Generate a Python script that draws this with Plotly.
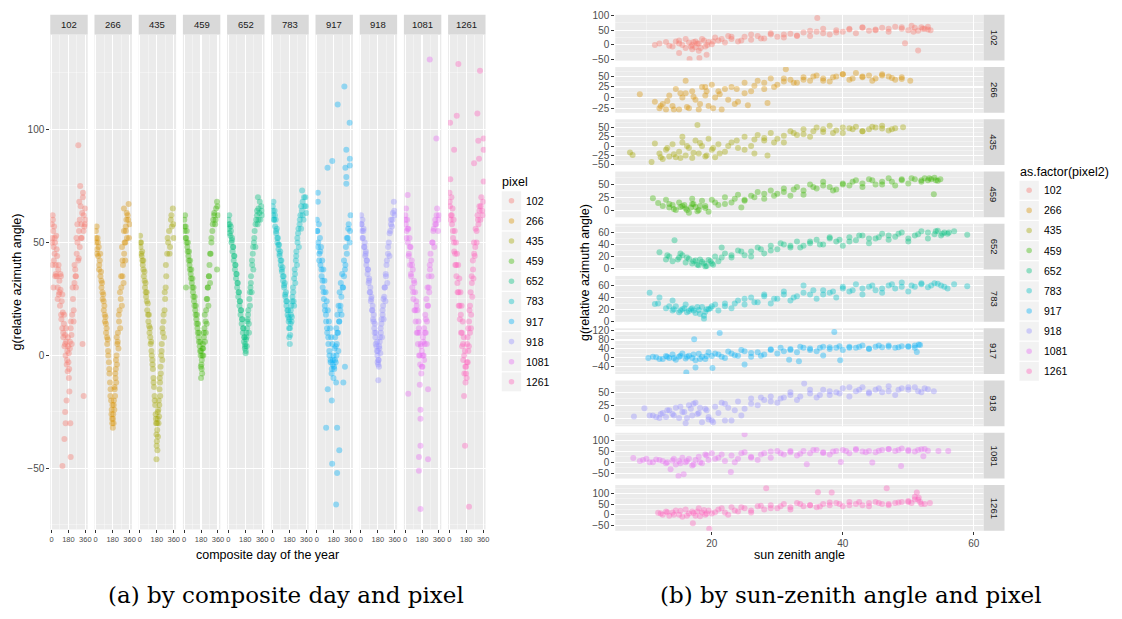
import plotly.graph_objects as go

# ---------------- data ----------------
pixels = ["102", "266", "435", "459", "652", "783", "917", "918", "1081", "1261"]
colors = ["#F8766D", "#D89000", "#A3A500", "#39B600", "#00BF7D",
          "#00BFC4", "#00B0F6", "#9590FF", "#E76BF3", "#FF62BC"]

day_ticks = [0, 180, 360]
sza_ticks = [20, 40, 60]

# (a) composite day vs g, per pixel
d102 = [3, 8, 12, 18, 22, 28, 33, 38, 44, 50, 55, 60, 66, 72, 78, 84, 90, 96, 102, 108, 114, 120, 126, 132, 138, 144, 150, 156, 162, 168, 172, 176, 180, 184, 188, 116, 137, 204, 150, 200, 145, 160, 190, 342, 330, 196, 204, 212, 220, 228, 236, 244, 252, 260, 268, 276, 284, 285, 292, 300, 305, 310, 318, 326, 334, 342, 350, 358, 362, 300, 320, 340, 260, 290, 20, 40, 10, 100]
g102 = [58, 52, 62, 55, 48, 57, 45, 50, 40, 53, 35, 44, 30, 38, 27, 33, 22, 29, 18, 24, 12, 19, 8, 14, 4, 9, 0, 6, -4, 2, -7, 4, -3, 1, -6, -49, -37, -45, -30, -30, -25, -20, -16, -18, 5, 6, 12, 9, 18, 25, 20, 32, 38, 30, 45, 50, 42, 93, 55, 60, 75, 66, 58, 63, 70, 62, 57, 65, 60, 48, 52, 55, 35, 43, 30, 35, 40, 35]
d102b = [5, 15, 25, 35, 45, 55, 65, 75, 85, 95, 105, 115, 125, 135, 145, 155, 165, 175, 185, 195, 205, 215, 225, 235, 245, 255, 265, 275, 295, 315, 335, 355]
g102b = [50, 60, 42, 52, 36, 47, 25, 40, 28, 36, 16, 27, 10, 18, 5, 12, -2, 8, -10, 3, 15, 5, 30, 15, 40, 35, 52, 58, 68, 52, 72, 58]
d266 = [2, 6, 10, 15, 20, 26, 32, 38, 44, 50, 56, 62, 68, 74, 80, 86, 92, 98, 104, 110, 116, 122, 128, 134, 140, 146, 152, 158, 164, 170, 174, 178, 182, 186, 190, 194, 198, 202, 206, 210, 214, 218, 222, 226, 230, 236, 242, 248, 254, 260, 266, 272, 278, 284, 290, 296, 302, 308, 314, 320, 326, 332, 340, 350, 360, 300, 280, 320]
g266 = [55, 50, 57, 47, 52, 44, 48, 40, 42, 35, 37, 30, 32, 25, 27, 20, 22, 15, 17, 10, 12, 5, 7, 0, -3, -8, -12, -15, -20, -24, -28, -22, -32, -26, -30, -20, -24, -15, -18, -10, -6, -12, 0, -4, 5, 10, 3, 15, 20, 12, 25, 30, 22, 35, 40, 32, 45, 50, 42, 55, 60, 52, 62, 67, 58, 65, 48, 57]
d266b = [4, 12, 24, 36, 48, 60, 72, 84, 96, 108, 120, 132, 144, 156, 168, 176, 184, 192, 200, 208, 216, 224, 234, 246, 258, 270, 285, 300, 315, 330, 345, 355]
g266b = [52, 45, 50, 38, 45, 33, 28, 24, 18, 14, 8, 2, -6, -18, -26, -30, -28, -22, -14, -8, -2, 8, 6, 18, 28, 35, 42, 55, 50, 63, 60, 52]
d435 = [2, 6, 12, 18, 24, 30, 36, 42, 48, 54, 60, 66, 72, 78, 84, 90, 96, 102, 108, 114, 120, 126, 132, 138, 144, 150, 156, 162, 168, 172, 176, 180, 184, 188, 192, 196, 200, 204, 208, 212, 216, 220, 226, 232, 238, 244, 250, 256, 262, 268, 274, 280, 290, 300, 310, 320, 330, 340, 350, 360, 176, 186]
g435 = [53, 48, 50, 44, 46, 40, 42, 35, 37, 30, 32, 26, 28, 20, 23, 15, 18, 10, 12, 5, 6, 0, -2, -6, -10, -14, -18, -22, -26, -30, -35, -38, -33, -28, -36, -24, -20, -27, -15, -10, -18, -5, 0, 5, -2, 10, 15, 8, 20, 25, 30, 35, 45, 50, 55, 48, 60, 57, 65, 52, -46, -42]
d435b = [4, 14, 26, 38, 50, 62, 74, 86, 98, 110, 122, 134, 146, 158, 170, 178, 182, 190, 198, 206, 214, 222, 230, 240, 252, 264, 276, 295, 315, 335, 355]
g435b = [50, 45, 42, 38, 33, 28, 24, 18, 13, 8, 2, -4, -12, -20, -28, -40, -30, -25, -30, -22, -12, -8, 2, 12, 18, 28, 40, 52, 45, 62, 58]
d459 = [2, 6, 10, 16, 22, 28, 34, 40, 46, 52, 58, 64, 70, 76, 82, 88, 94, 100, 106, 112, 118, 124, 130, 136, 142, 148, 154, 160, 166, 172, 176, 180, 184, 188, 192, 196, 200, 204, 210, 216, 222, 228, 234, 240, 246, 252, 258, 264, 270, 276, 282, 290, 300, 310, 320, 330, 340, 350, 360, 20, 350, 180]
g459 = [60, 55, 62, 57, 52, 55, 48, 50, 44, 46, 40, 42, 36, 38, 32, 34, 28, 30, 24, 26, 20, 22, 16, 18, 12, 14, 8, 10, 4, 6, 0, 2, -4, -2, -8, 3, 5, 0, 8, 12, 6, 15, 20, 14, 25, 30, 22, 35, 40, 32, 45, 50, 55, 60, 63, 58, 65, 68, 62, 30, 38, -10]
d459b = [4, 14, 26, 38, 50, 62, 74, 86, 98, 110, 122, 134, 146, 158, 170, 178, 186, 194, 202, 210, 220, 230, 240, 252, 264, 276, 290, 305, 320, 335, 355]
g459b = [57, 52, 50, 46, 42, 38, 34, 30, 26, 22, 18, 14, 10, 6, 2, -5, -6, 0, 3, 10, 18, 10, 25, 30, 35, 45, 52, 58, 62, 60, 66]
d652 = [2, 6, 10, 16, 22, 28, 34, 40, 46, 52, 58, 64, 70, 76, 82, 88, 94, 100, 106, 112, 118, 124, 130, 136, 142, 148, 154, 160, 166, 172, 176, 180, 184, 188, 192, 196, 200, 206, 212, 218, 224, 230, 236, 242, 248, 254, 260, 266, 272, 280, 288, 296, 304, 312, 320, 330, 340, 350, 360, 315]
g652 = [60, 56, 62, 58, 53, 55, 50, 52, 46, 48, 42, 44, 38, 40, 34, 36, 30, 32, 26, 28, 22, 24, 18, 20, 14, 16, 10, 12, 6, 8, 3, 5, 1, 7, 10, 4, 12, 16, 20, 14, 25, 22, 30, 35, 28, 40, 45, 38, 50, 55, 48, 60, 62, 58, 65, 63, 60, 66, 62, 70]
d652b = [4, 14, 26, 38, 50, 62, 74, 86, 98, 110, 122, 134, 146, 158, 170, 178, 186, 194, 202, 210, 220, 230, 240, 252, 264, 276, 290, 305, 320, 335, 355]
g652b = [58, 54, 57, 51, 48, 44, 40, 36, 32, 28, 24, 20, 16, 12, 8, 4, 2, 8, 15, 18, 10, 28, 32, 42, 48, 52, 58, 64, 60, 68, 64]
d783 = [2, 6, 10, 16, 22, 28, 34, 40, 46, 52, 58, 64, 70, 76, 82, 88, 94, 100, 106, 112, 118, 124, 130, 136, 142, 148, 154, 160, 166, 172, 176, 180, 184, 188, 192, 196, 200, 206, 212, 218, 224, 230, 236, 242, 248, 254, 260, 266, 272, 280, 288, 296, 304, 312, 320, 330, 340, 350, 360, 315]
g783 = [66, 62, 68, 60, 64, 57, 60, 54, 56, 50, 52, 47, 49, 44, 46, 40, 42, 37, 39, 33, 35, 30, 32, 26, 28, 22, 24, 18, 20, 15, 12, 16, 5, 9, 14, 18, 22, 17, 26, 30, 24, 34, 38, 32, 42, 46, 40, 50, 54, 48, 58, 62, 56, 64, 68, 60, 66, 70, 63, 73]
d783b = [4, 14, 26, 38, 50, 62, 74, 86, 98, 110, 122, 134, 146, 158, 170, 178, 186, 194, 202, 210, 220, 230, 240, 252, 264, 276, 290, 305, 320, 335, 355]
g783b = [64, 60, 62, 55, 52, 49, 45, 42, 38, 35, 31, 27, 24, 20, 17, 8, 12, 20, 15, 24, 28, 22, 36, 44, 52, 56, 60, 66, 62, 70, 66]
d917 = [2, 6, 12, 16, 22, 28, 34, 40, 46, 52, 58, 64, 70, 76, 82, 88, 94, 100, 106, 112, 118, 124, 130, 136, 142, 148, 154, 160, 166, 172, 178, 184, 190, 196, 202, 208, 214, 220, 226, 232, 238, 244, 250, 256, 262, 270, 280, 290, 300, 310, 320, 330, 340, 350, 360, 294, 223, 350, 315, 115, 165, 305, 352, 352, 315, 315, 12, 100, 217, 240, 164, 217, 206, 160, 117, 206, 283, 300]
g917 = [60, 55, 72, 50, 58, 45, 52, 40, 48, 35, 42, 30, 38, 25, 33, 20, 28, 15, 24, 10, 20, 5, 15, 0, 12, -3, 8, -6, 5, -2, 0, -5, 3, 8, -3, 12, 5, 18, 10, 22, 15, 28, 20, 32, 26, 36, 30, 42, 38, 48, 45, 52, 58, 50, 62, 119, 111, 103, 91, 83, 86, 83, 87, 84, 79, 76, 68, -32, -32, -42, -48, -52, -66, -20, -15, -12, -12, -5]
d917b = [4, 14, 26, 38, 50, 62, 74, 86, 98, 110, 122, 134, 146, 158, 170, 178, 186, 194, 202, 210, 220, 230, 240, 252, 264, 276, 290, 305, 320, 335, 355]
g917b = [55, 48, 42, 46, 38, 33, 28, 22, 18, 12, 8, 2, -2, -8, -4, -10, -6, -2, 4, 0, 10, 2, 15, 22, 18, 30, 35, 40, 52, 56, 55]
d918 = [2, 6, 10, 16, 22, 28, 34, 40, 46, 52, 58, 64, 70, 76, 82, 88, 94, 100, 106, 112, 118, 124, 130, 136, 142, 148, 154, 160, 166, 172, 176, 180, 184, 188, 192, 196, 200, 206, 212, 218, 224, 230, 236, 242, 248, 254, 260, 266, 272, 280, 288, 296, 304, 312, 320, 330, 340, 350, 360, 185]
g918 = [62, 58, 55, 60, 52, 56, 48, 50, 44, 46, 40, 42, 36, 38, 32, 34, 28, 30, 24, 26, 20, 22, 16, 18, 12, 14, 8, 10, 4, 6, 0, 2, -4, -2, -5, 3, 6, 1, 10, 14, 8, 18, 22, 16, 26, 30, 24, 35, 40, 32, 45, 50, 44, 55, 60, 57, 63, 68, 62, -11]
d918b = [4, 14, 26, 38, 50, 62, 74, 86, 98, 110, 122, 134, 146, 158, 170, 178, 186, 194, 202, 210, 220, 230, 240, 252, 264, 276, 290, 305, 320, 335, 355]
g918b = [58, 52, 55, 48, 45, 42, 38, 33, 28, 25, 20, 15, 10, 5, 2, -3, -2, 4, 8, 12, 16, 20, 25, 30, 36, 42, 48, 54, 58, 60, 64]
d1081 = [2, 6, 10, 16, 22, 28, 34, 40, 46, 52, 58, 64, 70, 76, 82, 88, 94, 100, 106, 112, 118, 124, 130, 136, 142, 148, 154, 160, 166, 172, 178, 184, 190, 196, 202, 208, 214, 220, 226, 232, 238, 244, 250, 256, 262, 270, 280, 290, 300, 310, 320, 330, 340, 350, 360, 262, 332, 27, 33, 156, 244, 163, 163, 163, 147, 244, 147, 163]
g1081 = [62, 58, 65, 55, 60, 50, 56, 45, 52, 40, 48, 35, 42, 30, 38, 25, 33, 20, 28, 15, 24, 10, 20, 5, 15, 0, 10, -4, 5, -8, 2, -5, 8, 0, 12, 5, 18, 10, 25, 15, 30, 22, 35, 28, 40, 45, 35, 50, 55, 48, 60, 58, 65, 55, 62, 131, 96, 71, -17, -13, -15, -24, -28, -40, -45, -46, -51, -68]
d1081b = [4, 14, 26, 38, 50, 62, 74, 86, 98, 110, 122, 134, 146, 158, 170, 178, 186, 194, 202, 210, 220, 230, 240, 252, 264, 276, 290, 305, 320, 335, 355]
g1081b = [60, 52, 56, 44, 48, 36, 40, 28, 32, 20, 22, 10, 12, 0, 4, -5, 0, 6, -2, 10, 16, 5, 22, 30, 38, 42, 50, 56, 58, 62, 60]
d1261 = [2, 6, 10, 16, 22, 28, 34, 40, 46, 52, 58, 64, 70, 76, 82, 88, 94, 100, 106, 112, 118, 124, 130, 136, 142, 148, 154, 160, 166, 172, 178, 184, 190, 196, 202, 208, 214, 220, 226, 232, 238, 244, 250, 256, 262, 270, 280, 290, 300, 310, 320, 330, 340, 350, 360, 96, 326, 298, 79, 8, 51, 308, 365, 365, 316, 263, 365, 167, 209, 157]
g1261 = [72, 66, 78, 62, 70, 58, 65, 52, 60, 46, 55, 40, 50, 35, 45, 28, 40, 22, 34, 16, 28, 10, 22, 4, 15, -2, 8, -8, 2, -12, -5, -10, 5, -3, 12, 4, 20, 10, 28, 18, 35, 26, 42, 34, 50, 44, 56, 50, 62, 58, 66, 60, 70, 64, 68, 129, 126, 107, 106, 103, 91, 95, 96, 91, 87, 85, 77, -40, -67, -18]
d1261b = [4, 14, 26, 38, 50, 62, 74, 86, 98, 110, 122, 134, 146, 158, 170, 178, 186, 194, 202, 210, 220, 230, 240, 252, 264, 276, 290, 305, 320, 335, 355]
g1261b = [68, 60, 62, 55, 50, 45, 40, 32, 28, 22, 18, 10, 5, 0, -5, -8, -3, 8, 2, 15, 22, 12, 32, 38, 45, 48, 55, 60, 64, 66, 62]

# (b) sun zenith angle vs g, per pixel
z102 = [11.3, 13, 14, 15, 15, 16, 16.5, 17, 17, 17.5, 18, 18, 18.5, 19, 19.5, 20, 20.5, 21, 22, 23, 24, 25, 26, 27, 28, 29, 30, 31, 32, 33, 34, 35, 36, 37, 38, 39, 40, 41, 42, 43, 44, 45, 46, 47, 48, 49, 50, 50.5, 51, 51.5, 52, 52.5, 53, 53.4, 16.6, 18.1, 19.2, 15, 36.1, 49.5, 51.5, 17.5, 22.5]
h102 = [0, 10, -5, 5, 15, -10, 8, 0, -15, 12, 5, -20, 20, -5, 10, 2, 25, 15, 8, 20, 12, 28, 18, 30, 22, 35, 28, 25, 38, 32, 42, 30, 45, 40, 35, 50, 45, 55, 40, 60, 48, 52, 58, 45, 62, 55, 50, 65, 58, 48, 60, 55, 52, 50, -48, -44, -33, -27, 91, 6, -19, -8, 30]
z102b = [12, 13.5, 14.5, 15.5, 16, 16.8, 17.2, 17.8, 18.3, 18.8, 19.3, 20.2, 21.5, 23, 24.5, 26, 27.5, 29, 31, 33, 35, 37, 39, 41, 43, 45, 47, 49, 50.8, 52.2, 53]
h102b = [5, -3, 12, 0, 20, -5, 10, 5, -10, 15, 0, 12, 20, 28, 15, 35, 22, 40, 35, 30, 48, 55, 42, 52, 58, 50, 55, 60, 45, 55, 62]
z266 = [9, 11.3, 12, 12.5, 13, 13.5, 14, 14.5, 15, 15.5, 16, 16.5, 17, 17.5, 18, 18.5, 19, 19.5, 20, 20.5, 21, 21.5, 22, 23, 24, 25, 26, 27, 28, 29, 30, 31, 31.3, 32, 33, 34, 35, 36, 37, 38, 39, 40, 41, 42, 43, 44, 45, 46, 47, 48, 49, 50.3, 23.5, 25.5, 28.5, 16, 19]
h266 = [8, -10, -25, -15, -28, 5, -20, 20, -28, 0, 10, -25, 15, -5, -28, 25, 5, -20, 30, 0, 15, -28, 20, 25, -10, 35, 15, 40, 20, 45, 30, 38, 67, 42, 35, 48, 40, 52, 45, 38, 50, 55, 42, 58, 48, 52, 45, 55, 50, 42, 48, 40, -15, -18, -13, 40, 25]
z266b = [12.2, 13.2, 14.2, 15.2, 16.2, 17.2, 18.2, 19.2, 20.2, 21.2, 22.5, 23.8, 25, 26.5, 28, 29.5, 31, 32.5, 34, 35.5, 37, 38.5, 40, 41.5, 43, 44.5, 46, 47.5, 49]
h266b = [-20, -8, -28, 10, -22, 2, -15, 15, -25, 8, -5, 20, 10, 28, 35, 25, 45, 35, 42, 50, 40, 48, 55, 45, 50, 40, 52, 46, 44]
z435 = [7.5, 7.9, 10.8, 11.3, 12, 12.5, 13, 13.5, 14, 14.5, 15, 15.5, 16, 16.5, 17, 17.5, 17.8, 18, 18.5, 19, 19.5, 20, 20.5, 21, 22, 23, 24, 25, 26, 27, 28, 29, 30, 31, 32, 33, 34, 35, 36, 37, 38, 39, 40, 41, 42, 43, 44, 45, 46, 47, 48, 49.2, 26.5, 28.5, 15.5]
h435 = [-17, -24, -43, 7, -20, -35, -10, -28, 5, -30, -15, 10, -25, -5, -32, 15, 57, -20, 0, -28, 20, -10, -30, 5, -15, 10, -5, 25, 0, 30, 15, 35, 20, 10, 40, 30, 45, 25, 50, 38, 55, 42, 35, 48, 52, 40, 45, 50, 55, 42, 48, 51, -20, -25, 25]
z435b = [12.2, 13.2, 14.2, 15.2, 16.2, 17.2, 18.2, 19.2, 20.2, 21.2, 22.5, 23.8, 25, 26.5, 28, 29.5, 31, 32.5, 34, 35.5, 37, 38.5, 40, 41.5, 43, 44.5, 46, 47.5]
h435b = [-30, -5, -22, -32, 0, -18, 8, -25, -5, -20, 0, 15, -10, 18, 22, 10, 28, 35, 32, 40, 45, 35, 50, 45, 40, 52, 47, 45]
z459 = [11, 11.8, 13, 13.5, 14, 14.5, 15, 15.5, 16, 16.5, 17, 17.5, 18, 18.5, 19, 19.5, 20, 21, 22, 23, 24, 25, 26, 27, 28, 29, 30, 31, 32, 33, 34, 35, 36, 37, 38, 39, 40, 41, 42, 43, 44, 45, 46, 47, 48, 49, 50, 51, 52, 52.5, 53, 53.5, 54, 54.5, 54.9, 53.9, 24.5, 17]
h459 = [23, 14, 20, 5, 10, 0, 15, 8, 3, -5, 12, 6, 0, 18, 8, -3, 20, 10, 25, 15, 30, 20, 28, 35, 22, 38, 32, 42, 28, 45, 38, 50, 42, 55, 45, 40, 52, 48, 58, 45, 60, 50, 55, 62, 48, 58, 52, 60, 55, 62, 58, 60, 63, 57, 60, 31, 5, 22]
z459b = [12.5, 13.5, 14.2, 15.2, 15.8, 16.2, 16.8, 17.2, 17.8, 18.2, 19, 20.5, 22, 23.5, 25, 26.5, 28, 29.5, 31, 32.5, 34, 35.5, 37, 38.5, 40, 41.5, 43, 44.5, 46, 47.5, 49, 50.5, 52, 53.2, 54.2]
h459b = [8, 12, 2, 6, 10, 0, 5, 12, -2, 8, 4, 15, 12, 22, 18, 25, 32, 28, 35, 40, 30, 45, 48, 38, 50, 55, 52, 58, 50, 55, 60, 62, 58, 62, 58]
z652 = [12, 13, 13.5, 14, 14.3, 15, 15.5, 16, 16.5, 17, 17.5, 18, 18.5, 19, 19.5, 20, 20.5, 21, 22, 23, 24, 25, 26, 27, 28, 29, 30, 31, 32, 33, 34, 35, 36, 37, 38, 39, 40, 41, 42, 43, 44, 45, 46, 47, 48, 49, 50, 51, 52, 53, 54, 54.5, 55, 55.5, 56, 57, 59, 21.5]
h652 = [27, 15, 20, 12, 47, 18, 22, 10, 16, 8, 13, 5, 11, 3, 14, 8, 20, 12, 25, 18, 30, 22, 28, 35, 25, 38, 32, 40, 35, 45, 38, 42, 48, 40, 50, 45, 38, 52, 47, 55, 42, 50, 58, 48, 53, 60, 45, 55, 62, 50, 57, 63, 55, 60, 58, 62, 56, 35]
z652b = [13.2, 14.8, 15.2, 16.2, 17.2, 17.8, 18.2, 18.8, 19.2, 19.8, 20.2, 21.5, 23, 24.5, 26, 27.5, 29, 30.5, 32, 33.5, 35, 36.5, 38, 39.5, 41, 42.5, 44, 45.5, 47, 48.5, 50, 51.5, 53, 54.2, 55.2, 56.2]
h652b = [22, 15, 25, 18, 12, 6, 15, 8, 4, 12, 6, 18, 22, 28, 20, 32, 30, 42, 38, 35, 45, 40, 52, 48, 45, 55, 50, 52, 55, 58, 50, 57, 60, 62, 58, 60]
z783 = [10.5, 11.3, 12, 13, 14, 14.5, 15, 15.5, 16, 16.5, 17, 17.5, 18, 18.5, 18.8, 19, 19.5, 20, 21, 22, 23, 24, 25, 26, 27, 28, 29, 30, 31, 32, 33, 34, 35, 36, 37, 38, 39, 40, 41, 42, 43, 44, 45, 46, 47, 48, 49, 50, 51, 52, 53, 54, 55, 56, 57, 59, 18.8, 14]
h783 = [48, 29, 40, 22, 18, 25, 15, 20, 28, 17, 22, 14, 19, 24, 9, 16, 20, 25, 18, 30, 22, 35, 28, 40, 32, 45, 30, 38, 50, 35, 42, 60, 45, 38, 52, 48, 40, 55, 50, 62, 45, 58, 52, 48, 60, 55, 65, 50, 58, 62, 57, 64, 60, 55, 62, 59, 4, 35]
z783b = [11.8, 13.5, 14.2, 15.2, 15.8, 16.2, 16.8, 17.2, 17.8, 18.2, 19.2, 19.8, 20.5, 22, 23.5, 25, 26.5, 28, 29.5, 31, 32.5, 34, 35.5, 37, 38.5, 40, 41.5, 43, 44.5, 46, 47.5, 49, 50.5, 52, 53.5, 54.5, 55.5]
h783b = [30, 25, 20, 18, 22, 15, 20, 18, 24, 12, 20, 22, 28, 25, 30, 38, 32, 42, 38, 45, 40, 48, 52, 45, 50, 58, 52, 55, 60, 55, 62, 58, 60, 64, 60, 63, 58]
z917 = [10.3, 11, 12, 13, 13.5, 14, 14.5, 15, 15.5, 16, 16.5, 17, 17.5, 18, 18.5, 19, 19.5, 20, 21, 22, 23, 24, 25, 26, 27, 28, 29, 30, 31, 32, 33, 34, 35, 36, 37, 38, 39, 40, 41, 42, 43, 44, 45, 46, 47, 48, 49, 50, 51, 51.3, 51.8, 17.3, 21.2, 16.1, 17.5, 20.1, 25, 38.7, 37, 33.3, 31.8, 39.6]
h917 = [0, 5, -5, 8, 0, 15, -8, 5, 20, -3, 10, 0, -10, 18, 5, -5, 25, 8, 15, 0, 20, 10, 30, 5, 25, 15, 35, 20, 30, 40, 25, 45, 35, 30, 50, 40, 45, 35, 50, 45, 55, 40, 50, 48, 55, 45, 52, 50, 55, 26, 57, 83, 111, -65, -43, -45, -29, 115, 11, -15, -8, -10]
z917b = [11.5, 12.5, 13.2, 14.2, 15.2, 16.2, 17.2, 18.2, 19.2, 20.5, 21.5, 22.5, 23.5, 24.5, 26, 27.5, 29, 30.5, 32, 33.5, 35, 36.5, 38, 39.5, 41, 42.5, 44, 45.5, 47, 48.5, 50, 51, 51.6]
h917b = [3, -5, 5, 0, 10, 5, 15, -5, 8, 20, 5, 28, 12, 35, 22, 10, 38, 45, 35, 50, 42, 45, 48, 52, 45, 50, 42, 55, 50, 48, 52, 45, 60]
z918 = [8.1, 9.7, 11, 12, 12.5, 13, 13.5, 14, 14.5, 15, 15.5, 16, 16.5, 17, 17.5, 18, 18.5, 19, 19.5, 20, 20.5, 21, 22, 23, 24, 25, 26, 27, 28, 29, 30, 31, 32, 33, 34.1, 35, 36, 37, 38, 39, 40, 41, 42, 43, 44, 45, 46, 47, 48, 49, 50, 51, 52, 53, 53.9, 19.5, 22]
h918 = [3, 19, 5, 0, 10, 2, 15, 8, 20, 0, 12, -10, 25, 5, 30, 10, -8, 18, 2, -5, 22, 10, 28, -5, 32, 18, 38, 25, 35, 42, 30, 40, 45, 35, 67, 48, 40, 55, 45, 50, 58, 42, 52, 60, 48, 55, 50, 62, 45, 58, 55, 60, 50, 56, 52, -3, -5]
z918b = [10.5, 11.5, 12.2, 13.2, 14.2, 15.2, 15.8, 16.2, 16.8, 17.2, 17.8, 18.2, 19.2, 20.2, 21.5, 22.5, 23.5, 24.5, 26, 27.5, 29, 30.5, 32, 33.5, 35, 36.5, 38, 39.5, 41, 42.5, 44, 45.5, 47, 48.5, 50, 51.5, 52.5]
h918b = [5, 2, 8, 15, 5, 22, 12, 0, 18, 28, 8, 20, 15, -8, 30, 20, 15, 5, 28, 40, 32, 38, 50, 42, 55, 45, 52, 48, 60, 55, 50, 58, 52, 55, 60, 52, 58]
z1081 = [8, 9, 10, 11, 12, 13, 13.7, 14, 14.5, 14.9, 15, 15.5, 15.7, 16, 16.5, 17, 17.5, 18, 18.5, 19, 19.5, 20, 21, 22, 22.9, 23, 24, 25, 26, 27, 28, 29, 30, 31, 32, 33, 34, 34.5, 35, 36, 37, 38, 39, 39.7, 40, 41, 42, 43, 44, 44.5, 45, 46, 47, 48, 48.9, 49, 50, 51, 52, 52.3, 53, 54.6, 56.1, 25]
h1081 = [19, 5, 15, 0, 10, -5, -32, 8, -10, -63, 5, 20, -55, 0, 15, -15, 10, 25, -5, 35, 10, 40, 20, 5, -44, 30, 15, 45, 25, 10, 40, 20, 50, 35, 45, 30, 50, -9, 40, 55, 45, 35, 50, 1, 55, 40, 60, 48, 50, -1, 45, 55, 60, 50, -17, 62, 55, 48, 58, 27, 52, 50, 50, 126]
z1081b = [9.5, 10.5, 11.5, 12.5, 13.2, 14.2, 15.2, 16.2, 17.2, 18.2, 19.2, 20.5, 21.5, 23.5, 24.5, 26, 27.5, 29, 30.5, 32, 33.5, 35.5, 37, 38.5, 40.5, 42, 43.5, 45.5, 47, 48.5, 50, 51.5, 52.5]
h1081b = [10, 0, 12, 5, 0, 15, -5, 5, -10, 0, 30, 15, 35, 0, 40, 20, 35, 48, 40, 50, 38, 55, 42, 48, 50, 55, 45, 52, 58, 55, 50, 55, 60]
z1261 = [11.8, 12.5, 13, 13.5, 14, 14.5, 15, 15.5, 16, 16.5, 17, 17.1, 17.5, 18, 18.5, 19, 19.5, 19.6, 20, 21, 22, 23, 24, 25, 26, 27, 28, 28.3, 29, 30, 31, 32, 33, 34, 35, 36, 36.2, 37, 38, 38.3, 39, 40, 41, 42, 43, 44, 45, 46, 46.7, 47, 48, 49, 50, 50.5, 51, 51.3, 51.5, 51.8, 52, 53.3]
h1261 = [9, 0, 15, -5, 10, 20, 0, -10, 25, 5, 15, -40, -5, 30, 10, 0, 20, -67, 5, 25, 10, 35, 15, 30, 20, 40, 25, 125, 45, 30, 50, 35, 55, 40, 45, 35, 106, 50, 45, 105, 55, 40, 60, 50, 45, 55, 60, 50, 125, 45, 55, 60, 65, 55, 85, 105, 70, 60, 50, 55]
z1261b = [12.2, 13.2, 14.2, 15.2, 16.2, 17.2, 17.8, 18.2, 18.8, 19.2, 20.5, 21.5, 22.5, 23.5, 24.5, 26, 27.5, 29, 30.5, 32, 33.5, 35, 36.5, 38, 39.5, 41, 42.5, 44, 45.5, 47, 48.5, 50, 51, 51.6, 52.5]
h1261b = [5, 12, 0, 18, -5, 8, 15, -8, 22, 5, 12, 30, 0, 20, 35, 10, 42, 30, 40, 25, 50, 45, 38, 58, 50, 45, 60, 40, 55, 50, 58, 60, 72, 80, 50]

day_series = {"102": (d102 + d102b, g102 + g102b), "266": (d266 + d266b, g266 + g266b),
              "435": (d435 + d435b, g435 + g435b), "459": (d459 + d459b, g459 + g459b),
              "652": (d652 + d652b, g652 + g652b), "783": (d783 + d783b, g783 + g783b),
              "917": (d917 + d917b, g917 + g917b), "918": (d918 + d918b, g918 + g918b),
              "1081": (d1081 + d1081b, g1081 + g1081b), "1261": (d1261 + d1261b, g1261 + g1261b)}
sza_series = {"102": (z102 + z102b, h102 + h102b), "266": (z266 + z266b, h266 + h266b),
              "435": (z435 + z435b, h435 + h435b), "459": (z459 + z459b, h459 + h459b),
              "652": (z652 + z652b, h652 + h652b), "783": (z783 + z783b, h783 + h783b),
              "917": (z917 + z917b, h917 + h917b), "918": (z918 + z918b, h918 + h918b),
              "1081": (z1081 + z1081b, h1081 + h1081b), "1261": (z1261 + z1261b, h1261 + h1261b)}

# per-row y tick settings of panel (b) (free scales)
sza_yticks = {"102": [-50, 0, 50, 100], "266": [-25, 0, 25, 50], "435": [-50, -25, 0, 25, 50],
              "459": [0, 25, 50], "652": [0, 20, 40, 60], "783": [0, 20, 40, 60],
              "917": [-40, 0, 40, 80, 120], "918": [0, 25, 50], "1081": [-50, 0, 50, 100],
              "1261": [-50, 0, 50, 100]}
sza_yrange = {"102": [-53, 102], "266": [-36, 72], "435": [-51, 72], "459": [-14, 75],
              "652": [-2, 74.5], "783": [-1, 76], "917": [-72, 132], "918": [-16, 73],
              "1081": [-74, 133], "1261": [-76, 140]}

# ---------------- styling / layout ----------------
W, H = 1122, 619
FONT = "Liberation Sans, Arial, sans-serif"
SERIF = "DejaVu Serif, Liberation Serif, serif"
TXT = "#4D4D4D"


def X(px):
    return px / W


def Y(py):
    return 1 - py / H


def rgba(h, a):
    h = h.lstrip("#")
    return "rgba(%d,%d,%d,%s)" % (int(h[0:2], 16), int(h[2:4], 16), int(h[4:6], 16), a)


def minor_vals(ticks, lo, hi):
    step = ticks[1] - ticks[0]
    vals = []
    v = ticks[0] - step / 2
    while v <= hi:
        if v >= lo:
            vals.append(v)
        v += step
    return vals


base_axis = dict(showgrid=True, gridcolor="white", gridwidth=1.1, zeroline=False,
                 showline=False, fixedrange=True, tickcolor="#333333", ticklen=3,
                 tickwidth=1, tickangle=0)
MINOR_GRID = dict(showgrid=True, gridcolor="rgba(255,255,255,0.6)", gridwidth=0.6, ticks="")
MARK_ALPHA = 0.38

fig = go.Figure()
layout = {}
shapes = []
annotations = []

n = 0
# ---- panel (a): facets in columns
for k, p in enumerate(pixels):
    n += 1
    xl = 49.5 + 44.4 * k
    xr = xl + 37.6
    xrng = [-13, 385]
    yrng = [-77, 142]
    layout["xaxis%d" % n] = dict(base_axis, domain=[X(xl), X(xr)], range=xrng, anchor="y%d" % n,
                                 tickvals=day_ticks, ticktext=[str(t) for t in day_ticks],
                                 ticks="outside", tickfont=dict(family=FONT, size=7.5, color=TXT),
                                 minor=dict(MINOR_GRID, tickvals=minor_vals(day_ticks, *xrng)))
    layout["yaxis%d" % n] = dict(base_axis, domain=[Y(533), Y(30)], range=yrng, anchor="x%d" % n,
                                 tickvals=[-50, 0, 50, 100], showticklabels=(k == 0),
                                 ticks="outside" if k == 0 else "",
                                 tickfont=dict(family=FONT, size=10, color=TXT),
                                 minor=dict(MINOR_GRID, tickvals=[-75, -25, 25, 75, 125]))
    xs, ys = day_series[p]
    m = min(len(xs), len(ys))
    fig.add_trace(go.Scatter(x=xs[:m], y=ys[:m], xaxis="x%d" % n, yaxis="y%d" % n, mode="markers",
                             marker=dict(size=6, color=rgba(colors[k], MARK_ALPHA), line=dict(width=0)),
                             showlegend=False, hoverinfo="skip"))
    shapes.append(dict(type="rect", xref="paper", yref="paper", x0=X(xl), x1=X(xr), y0=Y(30), y1=Y(10),
                       fillcolor="#D9D9D9", line=dict(width=0)))
    annotations.append(dict(text=p, xref="paper", yref="paper", x=X((xl + xr) / 2), y=Y(20),
                            showarrow=False, font=dict(family=FONT, size=9.5, color="#1A1A1A"),
                            xanchor="center", yanchor="middle"))

# ---- panel (b): facets in rows
for k, p in enumerate(pixels):
    n += 1
    top = 10 + 53.1 * k
    bot = top + 46.5
    xrng = [5.25, 61.5]
    yrng = sza_yrange[p]
    last = (k == len(pixels) - 1)
    layout["xaxis%d" % n] = dict(base_axis, domain=[X(617), X(987)], range=xrng, anchor="y%d" % n,
                                 tickvals=sza_ticks, showticklabels=last,
                                 ticks="outside" if last else "",
                                 tickfont=dict(family=FONT, size=10, color=TXT),
                                 minor=dict(MINOR_GRID, tickvals=[10, 30, 50]))
    yt = sza_yticks[p]
    layout["yaxis%d" % n] = dict(base_axis, domain=[Y(bot), Y(top)], range=yrng, anchor="x%d" % n,
                                 tickvals=yt, ticks="outside",
                                 tickfont=dict(family=FONT, size=10, color=TXT),
                                 minor=dict(MINOR_GRID, tickvals=minor_vals(yt, *yrng)))
    xs, ys = sza_series[p]
    m = min(len(xs), len(ys))
    fig.add_trace(go.Scatter(x=xs[:m], y=ys[:m], xaxis="x%d" % n, yaxis="y%d" % n, mode="markers",
                             marker=dict(size=6, color=rgba(colors[k], MARK_ALPHA), line=dict(width=0)),
                             showlegend=False, hoverinfo="skip"))
    shapes.append(dict(type="rect", xref="paper", yref="paper", x0=X(987), x1=X(1008), y0=Y(bot), y1=Y(top),
                       fillcolor="#D9D9D9", line=dict(width=0)))
    annotations.append(dict(text=p, xref="paper", yref="paper", x=X(997.5), y=Y((top + bot) / 2),
                            showarrow=False, textangle=90,
                            font=dict(family=FONT, size=9.5, color="#1A1A1A"),
                            xanchor="center", yanchor="middle"))


# ---- legends
def legend(title, tx, ty, x0, y0, textx):
    annotations.append(dict(text=title, xref="paper", yref="paper", x=X(tx), y=Y(ty), showarrow=False,
                            font=dict(family=FONT, size=12.5, color="black"), xanchor="left", yanchor="middle"))
    for i, p in enumerate(pixels):
        cy = y0 + 20.45 * i
        shapes.append(dict(type="rect", xref="paper", yref="paper", x0=X(x0), x1=X(x0 + 19.5),
                           y0=Y(cy + 9.6), y1=Y(cy - 9.6), fillcolor="#F2F2F2", line=dict(width=0)))
        cx = x0 + 9.75
        shapes.append(dict(type="circle", xref="paper", yref="paper", x0=X(cx - 2.8), x1=X(cx + 2.8),
                           y0=Y(cy + 2.8), y1=Y(cy - 2.8), fillcolor=rgba(colors[i], 0.4), line=dict(width=0)))
        annotations.append(dict(text=p, xref="paper", yref="paper", x=X(textx), y=Y(cy), showarrow=False,
                                font=dict(family=FONT, size=10.5, color="black"), xanchor="left", yanchor="middle"))


legend("pixel", 501, 180, 503, 199, 525)
legend("as.factor(pixel2)", 1022, 170, 1023, 188.3, 1046)

# ---- axis titles and captions
annotations += [
    dict(text="composite day of the year", xref="paper", yref="paper", x=X(268), y=Y(559), showarrow=False,
         font=dict(family=FONT, size=12.5, color="black"), xanchor="center", yanchor="middle"),
    dict(text="g(relative azimuth angle)", xref="paper", yref="paper", x=X(17), y=Y(281), showarrow=False,
         textangle=-90, font=dict(family=FONT, size=12.5, color="black"), xanchor="center", yanchor="middle"),
    dict(text="sun zenith angle", xref="paper", yref="paper", x=X(802), y=Y(559), showarrow=False,
         font=dict(family=FONT, size=12.5, color="black"), xanchor="center", yanchor="middle"),
    dict(text="g(relative azimuth angle)", xref="paper", yref="paper", x=X(586), y=Y(272), showarrow=False,
         textangle=-90, font=dict(family=FONT, size=12.5, color="black"), xanchor="center", yanchor="middle"),
    dict(text="(a) by composite day and pixel", xref="paper", yref="paper", x=X(286), y=Y(600),
         showarrow=False, font=dict(family=SERIF, size=23, color="black"), xanchor="center", yanchor="middle"),
    dict(text="(b) by sun-zenith angle and pixel", xref="paper", yref="paper", x=X(853.5), y=Y(600),
         showarrow=False, font=dict(family=SERIF, size=23, color="black"), xanchor="center", yanchor="middle"),
]

fig.update_layout(width=W, height=H, margin=dict(l=0, r=0, t=0, b=0, pad=0),
                  paper_bgcolor="white", plot_bgcolor="#EBEBEB", showlegend=False,
                  shapes=shapes, annotations=annotations, font=dict(family=FONT), **layout)

fig.write_html("out.html", include_plotlyjs=True, config={"displayModeBar": False, "staticPlot": True},
               post_script="document.body.style.margin='0px';")
